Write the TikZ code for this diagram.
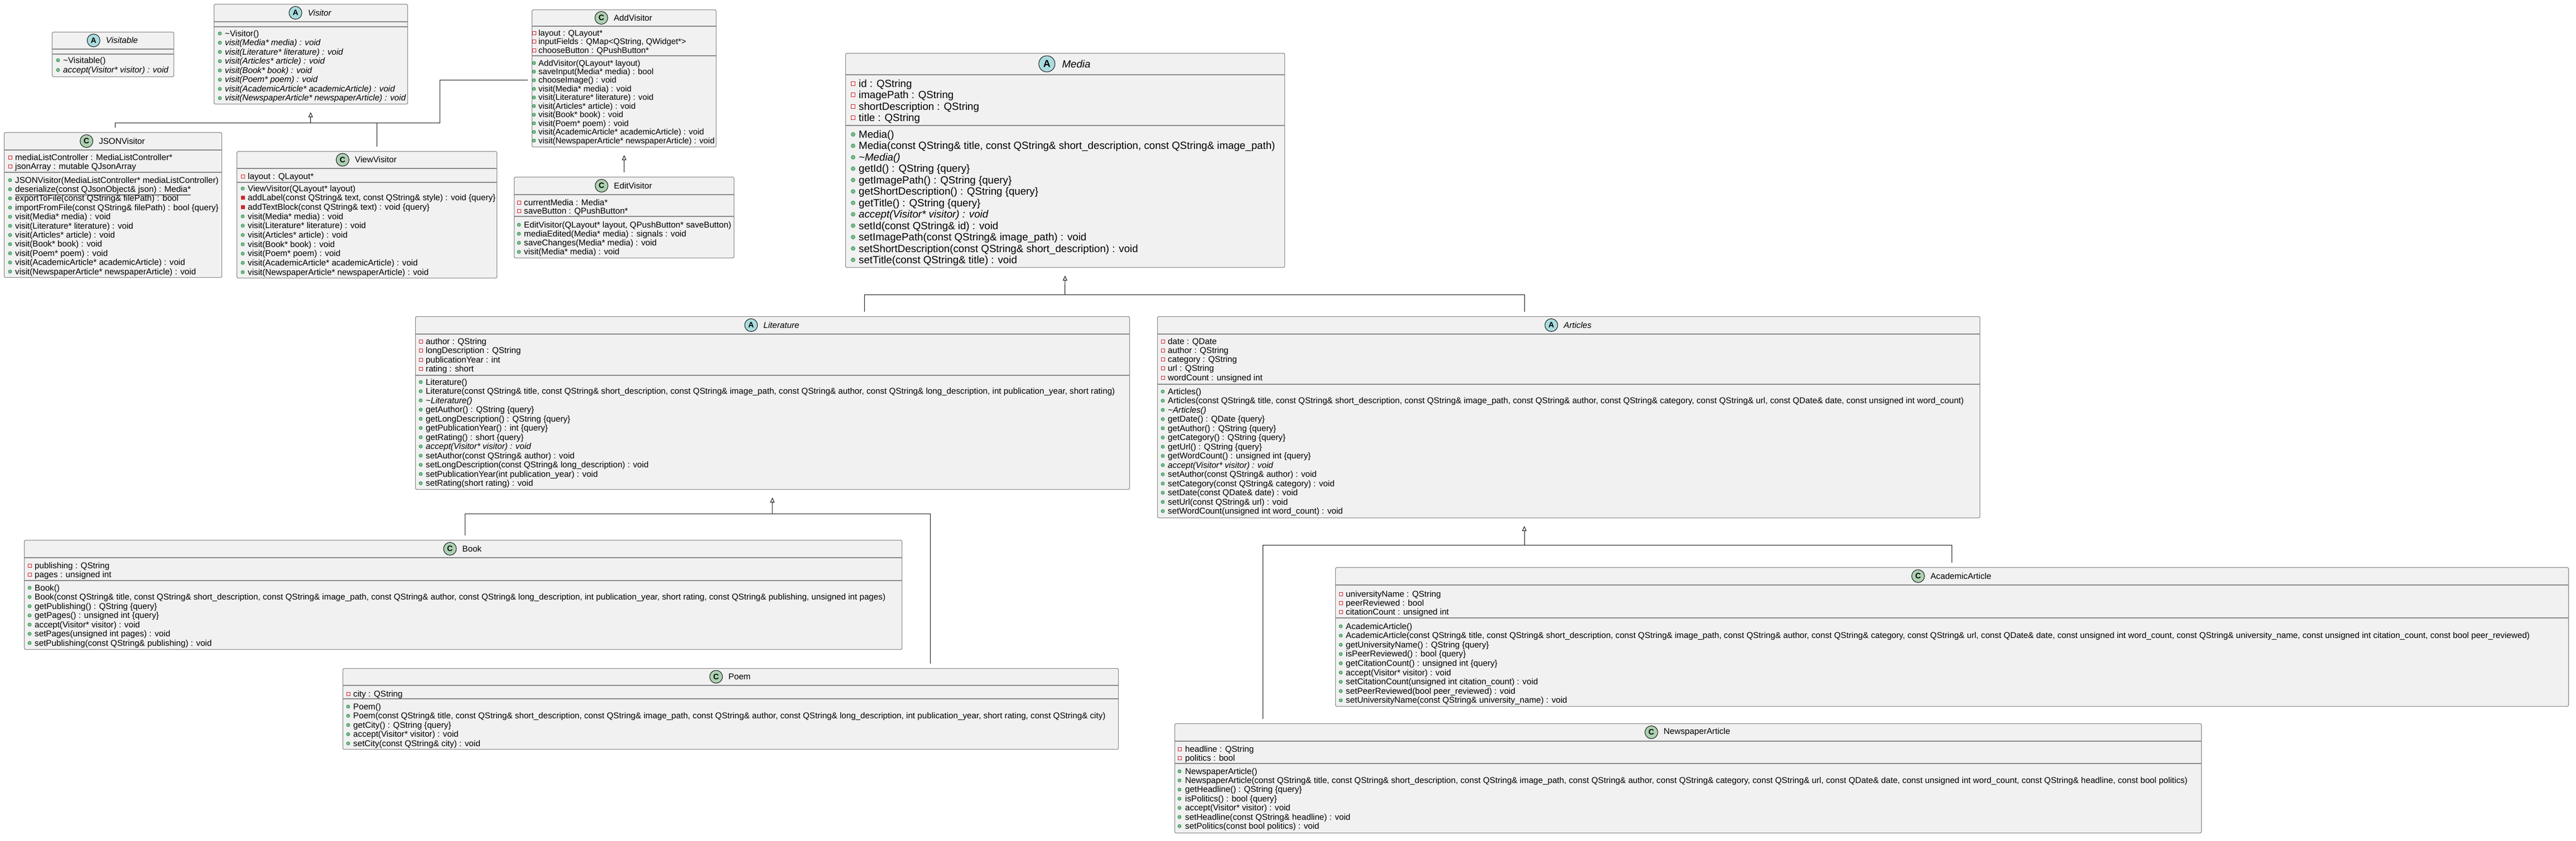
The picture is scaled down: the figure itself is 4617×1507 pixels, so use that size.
\documentclass[tikz,border=0pt]{standalone}
\usepackage{xcolor}
\usepackage{fontspec}
\setmainfont{Liberation Sans}
\usepackage{tikz}
\usetikzlibrary{positioning, arrows.meta}

\definecolor{umlfill}{HTML}{F1F1F1}
\definecolor{umlborder}{HTML}{8A8A8A}
\definecolor{umlline}{HTML}{181818}
\definecolor{fieldred}{HTML}{C82930}
\definecolor{opgreen}{HTML}{84BE84}
\definecolor{opgreenline}{HTML}{038048}
\definecolor{absfill}{HTML}{A9DCDF}
\definecolor{classfill}{HTML}{ADD1B2}

\tikzset{classbox/.style={draw=umlborder, fill=umlfill, line width=1.2pt, rounded corners=2.5pt, inner sep=0pt, anchor=north west},
sepline/.style={draw=umlborder, line width=1.2pt},
member/.style={anchor=base west, inner sep=0pt, font=\fontsize{15.2}{18}\selectfont},
smallmember/.style={member, font=\fontsize{14.8}{18}\selectfont},
bigmember/.style={member, font=\fontsize{18.7}{22}\selectfont},
classname/.style={inner sep=0pt, font=\fontsize{15.2}{18}\selectfont},
bigclassname/.style={inner sep=0pt, font=\fontsize{18.7}{22}\selectfont},
absmark/.style={circle, draw=umlline, fill=absfill, line width=1pt, minimum size=23pt, inner sep=0pt, font=\bfseries\fontsize{14}{14}\selectfont},
bigabsmark/.style={absmark, minimum size=29pt, font=\bfseries\fontsize{18}{18}\selectfont},
classmark/.style={absmark, fill=classfill},
fieldicon/.style={draw=fieldred, fill=white, line width=1pt},
hiddenicon/.style={draw=fieldred, fill=fieldred, line width=1pt},
opicon/.style={draw=opgreenline, fill=opgreen, line width=0.6pt},
extends/.style={draw=umlline, line width=1pt, -{Triangle[open, length=9pt, width=8pt]}, shorten >=14pt},
branch/.style={draw=umlline, line width=1pt, shorten <=8pt}
}

\begin{document}
\begin{tikzpicture}[x=1pt, y=-1pt]
 \useasboundingbox (0,0) rectangle (4617,1507);

 % Visitable
 \node[classbox, minimum width=218pt, minimum height=80pt] (visitable) at (93,57) {};
 \draw[sepline] (93,88) -- (311,88);
 \draw[sepline] (93,97) -- (311,97);
 \node[classname] (visitable-t) at (218.5,72.5) {\textit{Visitable}};
 \node[absmark, left=10pt of visitable-t] (visitable-m) {A};
 \foreach \t [count=\i from 0] in {{\textasciitilde Visitable()},{\textit{accept(Visitor* visitor) : void}}}
  \node[member] (visitable-o\i) at (113,113+\i*17.5) {\t};
 \foreach \i in {0,1} \filldraw[opicon] (104,108+\i*17.5) circle (3pt);

 % Visitor
 \node[classbox, minimum width=347pt, minimum height=179pt] (visitor) at (383,7) {};
 \draw[sepline] (383,39) -- (730,39);
 \draw[sepline] (383,48) -- (730,48);
 \node[classname] (visitor-t) at (573,23) {\textit{Visitor}};
 \node[absmark, left=10pt of visitor-t] (visitor-m) {A};
 \foreach \t [count=\i from 0] in {{\textasciitilde Visitor()},{\textit{visit(Media* media) : void}},{\textit{visit(Literature* literature) : void}},{\textit{visit(Articles* article) : void}},{\textit{visit(Book* book) : void}},{\textit{visit(Poem* poem) : void}},{\textit{visit(AcademicArticle* academicArticle) : void}},{\textit{visit(NewspaperArticle* newspaperArticle) : void}}}
  \node[member] (visitor-o\i) at (403,65+\i*16.57) {\t};
 \foreach \i in {0,...,7} \filldraw[opicon] (394,60+\i*16.57) circle (3pt);

 % AddVisitor
 \node[classbox, minimum width=330pt, minimum height=246pt] (addvisitor) at (953,17) {};
 \draw[sepline] (953,47) -- (1283,47);
 \draw[sepline] (953,100) -- (1283,100);
 \node[classname] (addvisitor-t) at (1134.5,32) {AddVisitor};
 \node[classmark, left=10pt of addvisitor-t] (addvisitor-m) {C};
 \foreach \t [count=\i from 0] in {{layout : QLayout*},{inputFields : QMap<QString, QWidget*>},{chooseButton : QPushButton*}}
  \node[smallmember] (addvisitor-a\i) at (965,64+\i*15.5) {\t};
 \foreach \i in {0,...,2} \draw[fieldicon] (954,56+\i*15.5) rectangle ++(6,6);
 \foreach \t [count=\i from 0] in {{AddVisitor(QLayout* layout)},{saveInput(Media* media) : bool},{chooseImage() : void},{visit(Media* media) : void},{visit(Literature* literature) : void},{visit(Articles* article) : void},{visit(Book* book) : void},{visit(Poem* poem) : void},{visit(AcademicArticle* academicArticle) : void},{visit(NewspaperArticle* newspaperArticle) : void}}
  \node[smallmember] (addvisitor-o\i) at (965,118+\i*15.45) {\t};
 \foreach \i in {0,...,9} \filldraw[opicon] (957,113+\i*15.45) circle (3pt);

 % JSONVisitor
 \node[classbox, minimum width=390pt, minimum height=260pt] (jsonvisitor) at (7,237) {};
 \draw[sepline] (7,269) -- (397,269);
 \draw[sepline] (7,309) -- (397,309);
 \node[classname] (jsonvisitor-t) at (218.5,253) {JSONVisitor};
 \node[classmark, left=10pt of jsonvisitor-t] (jsonvisitor-m) {C};
 \foreach \t [count=\i from 0] in {{mediaListController : MediaListController*},{jsonArray : mutable QJsonArray}}
  \node[member] (jsonvisitor-a\i) at (27,287+\i*16) {\t};
 \foreach \i in {0,1} \draw[fieldicon] (15,279+\i*16) rectangle ++(6,6);
 \foreach \t [count=\i from 0] in {{JSONVisitor(MediaListController* mediaListController)},{\underline{deserialize(const QJsonObject\& json) : Media*}},{exportToFile(const QString\& filePath) : bool},{importFromFile(const QString\& filePath) : bool \{query\}},{visit(Media* media) : void},{visit(Literature* literature) : void},{visit(Articles* article) : void},{visit(Book* book) : void},{visit(Poem* poem) : void},{visit(AcademicArticle* academicArticle) : void},{visit(NewspaperArticle* newspaperArticle) : void}}
  \node[member] (jsonvisitor-o\i) at (27,328+\i*16.4) {\t};
 \foreach \i in {0,...,10} \filldraw[opicon] (18,323+\i*16.4) circle (3pt);

 % ViewVisitor
 \node[classbox, minimum width=466pt, minimum height=227pt] (viewvisitor) at (424,271) {};
 \draw[sepline] (424,302) -- (890,302);
 \draw[sepline] (424,327) -- (890,327);
 \node[classname] (viewvisitor-t) at (673.5,286.5) {ViewVisitor};
 \node[classmark, left=10pt of viewvisitor-t] (viewvisitor-m) {C};
 \node[member] (viewvisitor-a0) at (444,321) {layout : QLayout*};
 \draw[fieldicon] (432,313) rectangle ++(6,6);
 \foreach \t [count=\i from 0] in {{ViewVisitor(QLayout* layout)},{addLabel(const QString\& text, const QString\& style) : void \{query\}},{addTextBlock(const QString\& text) : void \{query\}},{visit(Media* media) : void},{visit(Literature* literature) : void},{visit(Articles* article) : void},{visit(Book* book) : void},{visit(Poem* poem) : void},{visit(AcademicArticle* academicArticle) : void},{visit(NewspaperArticle* newspaperArticle) : void}}
  \node[member] (viewvisitor-o\i) at (444,343+\i*16.67) {\t};
 \foreach \i in {0,3,4,5,6,7,8,9} \filldraw[opicon] (435,338+\i*16.67) circle (3pt);
 \foreach \i in {1,2} \draw[hiddenicon] (432,335+\i*16.67) rectangle ++(6,6);

 % EditVisitor
 \node[classbox, minimum width=394pt, minimum height=145pt] (editvisitor) at (921,317) {};
 \draw[sepline] (921,349) -- (1315,349);
 \draw[sepline] (921,388) -- (1315,388);
 \node[classname] (editvisitor-t) at (1134.5,333) {EditVisitor};
 \node[classmark, left=10pt of editvisitor-t] (editvisitor-m) {C};
 \foreach \t [count=\i from 0] in {{currentMedia : Media*},{saveButton : QPushButton*}}
  \node[member] (editvisitor-a\i) at (939,368+\i*15.5) {\t};
 \foreach \i in {0,1} \draw[fieldicon] (927,360+\i*15.5) rectangle ++(6,6);
 \foreach \t [count=\i from 0] in {{EditVisitor(QLayout* layout, QPushButton* saveButton)},{mediaEdited(Media* media) : signals : void},{saveChanges(Media* media) : void},{visit(Media* media) : void}}
  \node[member] (editvisitor-o\i) at (939,408+\i*16.2) {\t};
 \foreach \i in {0,...,3} \filldraw[opicon] (930,403+\i*16.2) circle (3pt);

 % Media
 \node[classbox, minimum width=787pt, minimum height=384pt] (media) at (1515,95) {};
 \draw[sepline] (1515,134) -- (2302,134);
 \draw[sepline] (1515,225) -- (2302,225);
 \node[bigclassname] (media-t) at (1929,114.5) {\textit{Media}};
 \node[bigabsmark, left=12pt of media-t] (media-m) {A};
 \foreach \t [count=\i from 0] in {{id : QString},{imagePath : QString},{shortDescription : QString},{title : QString}}
  \node[bigmember] (media-a\i) at (1539,156.5+\i*20.4) {\t};
 \foreach \i in {0,...,3} \draw[fieldicon] (1525.5,146.5+\i*20.4) rectangle ++(7,7);
 \foreach \t [count=\i from 0] in {{Media()},{Media(const QString\& title, const QString\& short\_description, const QString\& image\_path)},{\textit{\textasciitilde Media()}},{getId() : QString \{query\}},{getImagePath() : QString \{query\}},{getShortDescription() : QString \{query\}},{getTitle() : QString \{query\}},{\textit{accept(Visitor* visitor) : void}},{setId(const QString\& id) : void},{setImagePath(const QString\& image\_path) : void},{setShortDescription(const QString\& short\_description) : void},{setTitle(const QString\& title) : void}}
  \node[bigmember] (media-o\i) at (1539,247.5+\i*20.45) {\t};
 \foreach \i in {0,...,11} \filldraw[opicon] (1529,241+\i*20.45) circle (3.5pt);

 % Literature
 \node[classbox, minimum width=1280pt, minimum height=310pt] (literature) at (744,567) {};
 \draw[sepline] (744,599) -- (2024,599);
 \draw[sepline] (744,673) -- (2024,673);
 \node[classname] (literature-t) at (1400.5,583) {\textit{Literature}};
 \node[absmark, left=10pt of literature-t] (literature-m) {A};
 \foreach \t [count=\i from 0] in {{author : QString},{longDescription : QString},{publicationYear : int},{rating : short}}
  \node[member] (literature-a\i) at (763,617+\i*16.5) {\t};
 \foreach \i in {0,...,3} \draw[fieldicon] (751,609+\i*16.5) rectangle ++(6,6);
 \foreach \t [count=\i from 0] in {{Literature()},{Literature(const QString\& title, const QString\& short\_description, const QString\& image\_path, const QString\& author, const QString\& long\_description, int publication\_year, short rating)},{\textit{\textasciitilde Literature()}},{getAuthor() : QString \{query\}},{getLongDescription() : QString \{query\}},{getPublicationYear() : int \{query\}},{getRating() : short \{query\}},{\textit{accept(Visitor* visitor) : void}},{setAuthor(const QString\& author) : void},{setLongDescription(const QString\& long\_description) : void},{setPublicationYear(int publication\_year) : void},{setRating(short rating) : void}}
  \node[member] (literature-o\i) at (763,690+\i*16.5) {\t};
 \foreach \i in {0,...,11} \filldraw[opicon] (754,685+\i*16.5) circle (3pt);

 % Articles
 \node[classbox, minimum width=1474pt, minimum height=361pt] (articles) at (2074,567) {};
 \draw[sepline] (2074,599) -- (3548,599);
 \draw[sepline] (2074,689) -- (3548,689);
 \node[classname] (articles-t) at (2827.5,583) {\textit{Articles}};
 \node[absmark, left=10pt of articles-t] (articles-m) {A};
 \foreach \t [count=\i from 0] in {{date : QDate},{author : QString},{category : QString},{url : QString},{wordCount : unsigned int}}
  \node[member] (articles-a\i) at (2093,617+\i*16.25) {\t};
 \foreach \i in {0,...,4} \draw[fieldicon] (2081,609+\i*16.25) rectangle ++(6,6);
 \foreach \t [count=\i from 0] in {{Articles()},{Articles(const QString\& title, const QString\& short\_description, const QString\& image\_path, const QString\& author, const QString\& category, const QString\& url, const QDate\& date, const unsigned int word\_count)},{\textit{\textasciitilde Articles()}},{getDate() : QDate \{query\}},{getAuthor() : QString \{query\}},{getCategory() : QString \{query\}},{getUrl() : QString \{query\}},{getWordCount() : unsigned int \{query\}},{\textit{accept(Visitor* visitor) : void}},{setAuthor(const QString\& author) : void},{setCategory(const QString\& category) : void},{setDate(const QDate\& date) : void},{setUrl(const QString\& url) : void},{setWordCount(unsigned int word\_count) : void}}
  \node[member] (articles-o\i) at (2093,707+\i*16.5) {\t};
 \foreach \i in {0,...,13} \filldraw[opicon] (2084,702+\i*16.5) circle (3pt);

 % Book
 \node[classbox, minimum width=1573pt, minimum height=196pt] (book) at (43,968) {};
 \draw[sepline] (43,1000) -- (1616,1000);
 \draw[sepline] (43,1041) -- (1616,1041);
 \node[classname] (book-t) at (846,984) {Book};
 \node[classmark, left=10pt of book-t] (book-m) {C};
 \foreach \t [count=\i from 0] in {{publishing : QString},{pages : unsigned int}}
  \node[member] (book-a\i) at (62,1019+\i*16) {\t};
 \foreach \i in {0,1} \draw[fieldicon] (50,1011+\i*16) rectangle ++(6,6);
 \foreach \t [count=\i from 0] in {{Book()},{Book(const QString\& title, const QString\& short\_description, const QString\& image\_path, const QString\& author, const QString\& long\_description, int publication\_year, short rating, const QString\& publishing, unsigned int pages)},{getPublishing() : QString \{query\}},{getPages() : unsigned int \{query\}},{accept(Visitor* visitor) : void},{setPages(unsigned int pages) : void},{setPublishing(const QString\& publishing) : void}}
  \node[member] (book-o\i) at (62,1059+\i*16.5) {\t};
 \foreach \i in {0,...,6} \filldraw[opicon] (53,1054+\i*16.5) circle (3pt);

 % Poem
 \node[classbox, minimum width=1390pt, minimum height=145pt] (poem) at (614,1198) {};
 \draw[sepline] (614,1229) -- (2004,1229);
 \draw[sepline] (614,1253) -- (2004,1253);
 \node[classname] (poem-t) at (1325.5,1213.5) {Poem};
 \node[classmark, left=10pt of poem-t] (poem-m) {C};
 \node[member] (poem-a0) at (633,1249) {city : QString};
 \draw[fieldicon] (621,1241) rectangle ++(6,6);
 \foreach \t [count=\i from 0] in {{Poem()},{Poem(const QString\& title, const QString\& short\_description, const QString\& image\_path, const QString\& author, const QString\& long\_description, int publication\_year, short rating, const QString\& city)},{getCity() : QString \{query\}},{accept(Visitor* visitor) : void},{setCity(const QString\& city) : void}}
  \node[member] (poem-o\i) at (633,1272+\i*16.5) {\t};
 \foreach \i in {0,...,4} \filldraw[opicon] (624,1267+\i*16.5) circle (3pt);

 % AcademicArticle
 \node[classbox, minimum width=2210pt, minimum height=249pt] (academic) at (2393,1017) {};
 \draw[sepline] (2393,1049) -- (4603,1049);
 \draw[sepline] (2393,1108) -- (4603,1108);
 \node[classname] (academic-t) at (3514.5,1033) {AcademicArticle};
 \node[classmark, left=10pt of academic-t] (academic-m) {C};
 \foreach \t [count=\i from 0] in {{universityName : QString},{peerReviewed : bool},{citationCount : unsigned int}}
  \node[member] (academic-a\i) at (2412,1070+\i*16) {\t};
 \foreach \i in {0,...,2} \draw[fieldicon] (2400,1062+\i*16) rectangle ++(6,6);
 \foreach \t [count=\i from 0] in {{AcademicArticle()},{AcademicArticle(const QString\& title, const QString\& short\_description, const QString\& image\_path, const QString\& author, const QString\& category, const QString\& url, const QDate\& date, const unsigned int word\_count, const QString\& university\_name, const unsigned int citation\_count, const bool peer\_reviewed)},{getUniversityName() : QString \{query\}},{isPeerReviewed() : bool \{query\}},{getCitationCount() : unsigned int \{query\}},{accept(Visitor* visitor) : void},{setCitationCount(unsigned int citation\_count) : void},{setPeerReviewed(bool peer\_reviewed) : void},{setUniversityName(const QString\& university\_name) : void}}
  \node[member] (academic-o\i) at (2412,1128+\i*16.6) {\t};
 \foreach \i in {0,...,8} \filldraw[opicon] (2403,1123+\i*16.6) circle (3pt);

 % NewspaperArticle
 \node[classbox, minimum width=1840pt, minimum height=196pt] (newspaper) at (2105,1297) {};
 \draw[sepline] (2105,1329) -- (3945,1329);
 \draw[sepline] (2105,1369) -- (3945,1369);
 \node[classname] (newspaper-t) at (3041.5,1313) {NewspaperArticle};
 \node[classmark, left=10pt of newspaper-t] (newspaper-m) {C};
 \foreach \t [count=\i from 0] in {{headline : QString},{politics : bool}}
  \node[member] (newspaper-a\i) at (2124,1348+\i*16) {\t};
 \foreach \i in {0,1} \draw[fieldicon] (2111,1340+\i*16) rectangle ++(6,6);
 \foreach \t [count=\i from 0] in {{NewspaperArticle()},{NewspaperArticle(const QString\& title, const QString\& short\_description, const QString\& image\_path, const QString\& author, const QString\& category, const QString\& url, const QDate\& date, const unsigned int word\_count, const QString\& headline, const bool politics)},{getHeadline() : QString \{query\}},{isPolitics() : bool \{query\}},{accept(Visitor* visitor) : void},{setHeadline(const QString\& headline) : void},{setPolitics(const bool politics) : void}}
  \node[member] (newspaper-o\i) at (2124,1388+\i*16.4) {\t};
 \foreach \i in {0,...,6} \filldraw[opicon] (2114,1383+\i*16.4) circle (3pt);

 % visitor hierarchy
 \coordinate (visbus) at (556.5,220);
 \coordinate (jsonbus) at (206,220);
 \coordinate (viewbus) at (675,220);
 \coordinate (addbend) at (788,220);
 \coordinate (addbus) at (788,143);
 \draw[extends] (visbus) -- (visitor.south);
 \draw[branch, shorten >=7pt] (jsonvisitor.north -| jsonbus) -- (jsonbus) -- (addbend) -- (addbus) -- (addvisitor.west |- addbus);
 \draw[branch] (viewvisitor.north -| viewbus) -- (viewbus);
 \draw[extends, shorten <=8pt] (editvisitor.north -| addvisitor.south) -- (addvisitor.south);

 % media hierarchy
 \coordinate (medbus) at (1908.5,528);
 \coordinate (litbus) at (1549,528);
 \coordinate (artbus) at (2732,528);
 \draw[extends] (medbus) -- (media.south);
 \draw[branch, shorten >=8pt] (literature.north -| litbus) -- (litbus) -- (artbus) -- (articles.north -| artbus);

 \coordinate (litsub) at (1384,921);
 \coordinate (bookbus) at (833,921);
 \coordinate (poembus) at (1667,921);
 \draw[extends] (litsub) -- (literature.south);
 \draw[branch, shorten >=8pt] (book.north -| bookbus) -- (bookbus) -- (poembus) -- (poem.north -| poembus);

 \coordinate (artsub) at (2732,977);
 \coordinate (newsbus) at (2263,977);
 \coordinate (acadbus) at (3498,977);
 \draw[extends] (artsub) -- (articles.south -| artsub);
 \draw[branch, shorten >=8pt] (newspaper.north -| newsbus) -- (newsbus) -- (acadbus) -- (academic.north -| acadbus);

\end{tikzpicture}
\end{document}
